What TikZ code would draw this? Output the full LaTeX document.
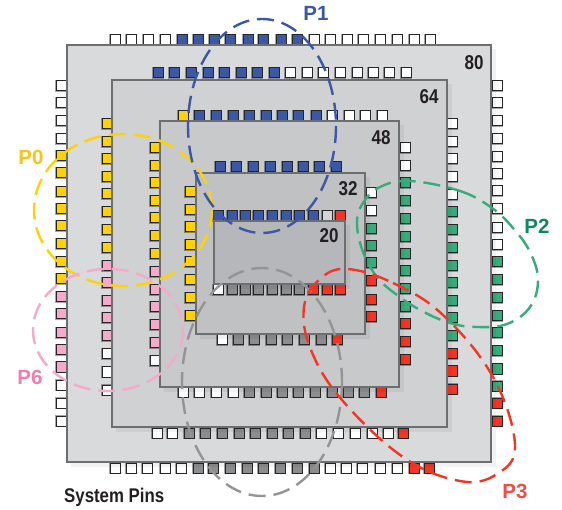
\documentclass[tikz,border=0pt]{standalone}
\usepackage{fontspec}
\setmainfont{Liberation Sans}
\newfontfamily\narrowfont[FakeStretch=0.85]{Liberation Sans}
\definecolor{cyel}{HTML}{FFD200}
\definecolor{cblu}{HTML}{3A58A6}
\definecolor{cgrn}{HTML}{36AC7B}
\definecolor{cpnk}{HTML}{F5AACB}
\definecolor{cred}{HTML}{F43524}
\definecolor{cgry}{HTML}{8C8D8E}
\definecolor{cwht}{HTML}{FFFFFF}
\definecolor{clgt}{HTML}{D4D5D7}
\definecolor{edge}{HTML}{6D6E70}
\definecolor{ink}{HTML}{231F20}
\definecolor{fa}{HTML}{D9DADC}
\definecolor{fb}{HTML}{D0D1D3}
\definecolor{fc}{HTML}{C8C9CB}
\definecolor{fd}{HTML}{C0C1C3}
\definecolor{fe}{HTML}{B6B7BA}
\definecolor{lp1}{HTML}{3A58A6}
\definecolor{lp0}{HTML}{F9C21C}
\definecolor{lp6}{HTML}{EE7FB0}
\definecolor{lp2}{HTML}{0F8A5C}
\definecolor{lp3}{HTML}{F04E45}
\tikzset{
  x=1pt,y=-1pt,
  pkg/.style={draw=edge,line width=2.6pt,miter limit=4},
  pkgshadow/.style={fill=black,fill opacity=0.05},
  loopline/.style={line width=2.4pt,dash pattern=on 17pt off 8pt,line cap=butt},
  sizelabel/.style={font=\narrowfont\fontsize{20}{20}\selectfont\bfseries,text=ink,inner sep=0pt},
  grouplabel/.style={font=\fontsize{20.5}{20}\selectfont\bfseries,inner sep=0pt},
  pinhalo/.style={fill=black,fill opacity=0.35},
  pinbody/.style={draw=black!85,line width=1pt},
}
\newcommand\oneppin[3]{%
  \fill[pinhalo] (#2-6,#3-6) rectangle (#2+6,#3+6);
  \filldraw[pinbody,fill=#1] (#2-5,#3-5) rectangle (#2+5,#3+5);}
\newcommand\hpins[3]{\foreach \px in {#3} {\oneppin{#1}{\px}{#2}}}
\newcommand\vpins[3]{\foreach \py in {#3} {\oneppin{#1}{#2}{\py}}}
\newcommand\pkgbox[5]{%
  \fill[pkgshadow] (#1+4,#2+4) rectangle (#3+5,#4+5);
  \filldraw[pkg,fill=#5] (#1,#2) rectangle (#3,#4);}
\begin{document}
\begin{tikzpicture}
\useasboundingbox (0,0) rectangle (562,510);
\fill[white] (0,0) rectangle (562,510);
% 80
\hpins{cwht}{40}{115,131,148,165}
\hpins{cblu}{40}{182,198,214,230,248,263,281,297}
\hpins{cwht}{40}{314,330,347,363,380,397,414,430}
\vpins{cwht}{497}{86,103,121,139,157,174,191,209,228,245}
\vpins{cgrn}{497}{262,280,298,316,333,351,369,386}
\vpins{cred}{497}{403,421}
\vpins{cwht}{61}{86,103,121,139}
\vpins{cyel}{61}{156,173,192,209,226,244,262,279}
\vpins{cpnk}{61}{297,314,333,350,367}
\vpins{cwht}{61}{385,403,421}
\hpins{cwht}{468}{115,131,147,165,181}
\hpins{cgry}{468}{198,213,230,247,263,280,297,314}
\hpins{cwht}{468}{330,346,362,380,397}
\hpins{cred}{468}{414,429}
\pkgbox{67}{45}{491}{462}{fa}
% 64
\hpins{cblu}{73}{158,174,191,208,224,241,257,274}
\hpins{cwht}{73}{290,307,323,340,357,373,389,406}
\hpins{cwht}{433}{157,172}
\hpins{cgry}{433}{189,205,222,239,255,272,288,305}
\hpins{cwht}{433}{321,338,355,372,388}
\hpins{cred}{433}{403}
\vpins{cyel}{107}{124,142,159,177,194,212,230,248}
\vpins{cpnk}{107}{266,283,301,318,336}
\vpins{cwht}{107}{354,372,390}
\vpins{cwht}{452}{124,142,159,177,195}
\vpins{cgrn}{452}{212,230,248,266,283,301,318,336}
\vpins{cred}{452}{354,371,389}
\pkgbox{112}{80}{447}{427}{fb}
% 48
\hpins{cyel}{116}{183}
\hpins{cblu}{116}{199,216,233,249,266,282,298,316}
\hpins{cwht}{116}{332,349,365,382}
\vpins{cyel}{155}{148,166,183,201,218,236,254}
\vpins{cpnk}{155}{272,290,307,325,343}
\vpins{cwht}{155}{361}
\vpins{cwht}{405}{148,166}
\vpins{cgrn}{405}{183,201,219,237,254,271,289,307}
\vpins{cred}{405}{324,342,360}
\hpins{cwht}{392}{183,199,216,233}
\hpins{cgry}{392}{249,266,282,298,315,332,348,364}
\hpins{cred}{392}{381}
\pkgbox{160}{121}{399}{387}{fc}
% 32
\hpins{cblu}{167}{220,236,253,270,287,303,319,336}
\vpins{cyel}{190}{192,210,227,245,262,280,298,316}
\vpins{cwht}{371}{193,211}
\vpins{cgrn}{371}{229,246,263}
\vpins{cred}{371}{281,300,317}
\hpins{cwht}{340}{222}
\hpins{cgry}{340}{238,254,271,287,304,321}
\hpins{cred}{340}{337}
\pkgbox{196}{173}{365}{334}{fd}
% 20
\hpins{cblu}{216}{218,232,245,258,272,286,299,313}
\hpins{clgt}{216}{327}
\hpins{cred}{216}{340}
\hpins{cwht}{290}{218}
\hpins{cgry}{290}{232,245,258,272,286,299}
\hpins{cred}{290}{313,327,340}
\pkgbox{214}{221}{345}{284}{fe}
% size labels
\node[sizelabel] (n80) at (474,63) {80};
\node[sizelabel] (n64) at (429,97) {64};
\node[sizelabel] (n48) at (381,138) {48};
\node[sizelabel] (n32) at (348,189) {32};
\node[sizelabel] (n20) at (329,236) {20};
% group loops
\draw[loopline,color=cyel] (123,210) ellipse [x radius=89,y radius=76];
\draw[loopline,color=cpnk] (108,330) ellipse [x radius=75,y radius=61];
\draw[loopline,color=cblu] (262,126) ellipse [x radius=74,y radius=107];
\draw[loopline,color=cgrn] plot[smooth cycle,tension=0.65] coordinates {(410,181) (460,191) (492,208) (513,228) (530,252) (538,280) (530,307) (507,324) (477,327) (450,323) (422,311) (397,295) (377,277) (363,252) (357,223) (363,203) (380,187)};
\draw[loopline,color=black!42] (262,382) ellipse [x radius=80,y radius=114];
\draw[loopline,color=cred] plot[smooth cycle,tension=0.65] coordinates {(347,269) (393,283) (443,315) (493,377) (515,445) (497,474) (460,481) (403,457) (342,400) (311,350) (304,307) (320,279)};
% group labels
\node[grouplabel,text=lp1] (p1) at (316,13) {P1};
\node[grouplabel,text=lp0] (p0) at (31,157) {P0};
\node[grouplabel,text=lp6] (p6) at (30,377) {P6};
\node[grouplabel,text=lp2] (p2) at (537,226) {P2};
\node[grouplabel,text=lp3] (p3) at (515,491) {P3};
\node[font=\narrowfont\fontsize{19.8}{20}\selectfont\bfseries,text=ink,inner sep=0pt,anchor=west] (sys) at (64,497) {System Pins};
\end{tikzpicture}
\end{document}
